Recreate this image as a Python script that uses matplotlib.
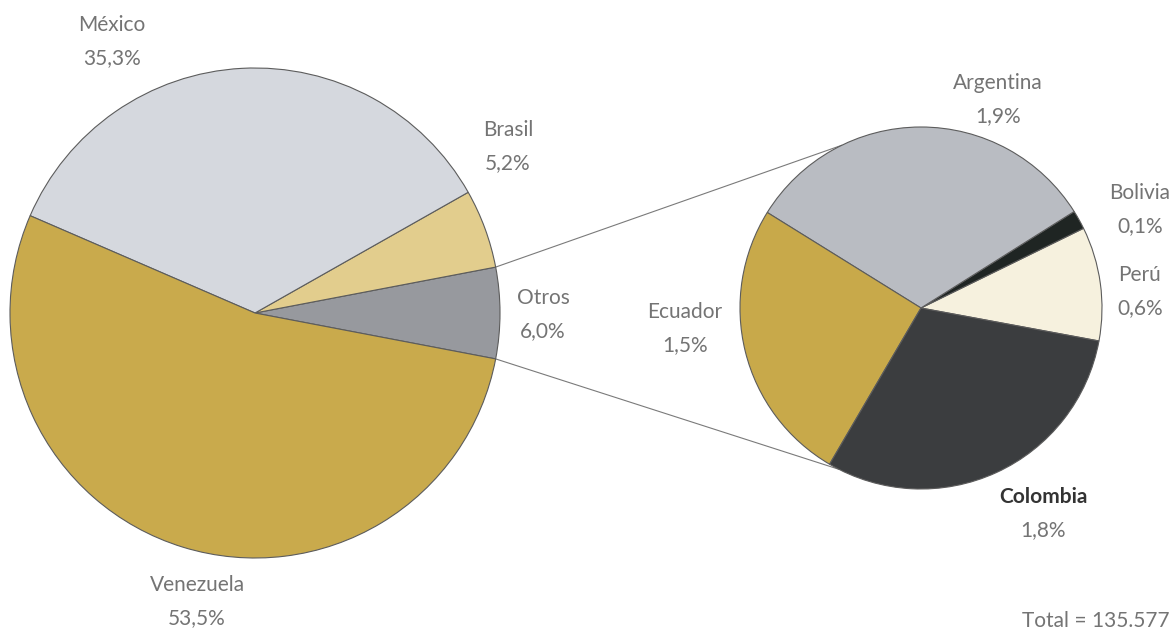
import numpy as np
import matplotlib.pyplot as plt

# main pie (share of total, %)
main_names = ['Otros', 'Brasil', 'México', 'Venezuela']
main_values = [6.0, 5.2, 35.3, 53.5]
main_colors = ['#97999e', '#e2cd8d', '#d5d8de', '#c9aa4c']

# breakdown of "Otros"
sub_names = ['Perú', 'Bolivia', 'Argentina', 'Ecuador', 'Colombia']
sub_values = [0.6, 0.1, 1.9, 1.5, 1.8]
sub_colors = ['#f6f1de', '#1f2523', '#b9bcc2', '#c8a94a', '#3b3d3f']

total_text = 'Total = 135.577'

W, H = 1176, 631
fig = plt.figure(figsize=(W / 100, H / 100), dpi=100)
ax = fig.add_axes([0, 0, 1, 1])

c1, r1 = (255, H - 313), 245
c2, r2 = (921, H - 308), 181

edge = dict(edgecolor='#5c5c5c', linewidth=0.8)
start1 = -main_values[0] / sum(main_values) * 180
w1, _ = ax.pie(main_values, center=c1, radius=r1, startangle=start1,
               colors=main_colors, wedgeprops=edge)
w2, _ = ax.pie(sub_values, center=c2, radius=r2, startangle=-10.5,
               colors=sub_colors, wedgeprops=edge)

# connector lines from the "Otros" wedge to the detail pie
otros = w1[0]
for t1, t2 in [(otros.theta2, 116), (otros.theta1, 243)]:
    x1 = c1[0] + r1 * np.cos(np.radians(t1))
    y1 = c1[1] + r1 * np.sin(np.radians(t1))
    x2 = c2[0] + r2 * np.cos(np.radians(t2))
    y2 = c2[1] + r2 * np.sin(np.radians(t2))
    ax.plot([x1, x2], [y1, y2], color='#7a7a7a', lw=0.8, zorder=0)

# label positions (pixel coords of the name line)
label_pos = {
    'México': (112, 25), 'Brasil': (508, 130), 'Otros': (543, 298),
    'Venezuela': (197, 585), 'Argentina': (998, 83), 'Bolivia': (1140, 193),
    'Perú': (1140, 275), 'Ecuador': (685, 312), 'Colombia': (1043, 497),
}

grey = '#747474'
font = dict(family=['Lato', 'DejaVu Sans'], fontsize=15, ha='center', va='center')
for name, val in zip(main_names + sub_names, main_values + sub_values):
    x, y = label_pos[name]
    pct = f'{val:.1f}%'.replace('.', ',')
    if name == 'Colombia':
        ax.text(x, H - y, name, color='#333333', fontweight='bold', **font)
    else:
        ax.text(x, H - y, name, color=grey, **font)
    ax.text(x, H - y - 33, pct, color=grey, **font)

ax.text(1170, H - 621, total_text, color=grey,
        family=['Lato', 'DejaVu Sans'], fontsize=15, ha='right', va='center')

ax.set_xlim(0, W)
ax.set_ylim(0, H)
ax.set_aspect('equal')
ax.axis('off')

fig.savefig('out.png', dpi=100, facecolor='white')
